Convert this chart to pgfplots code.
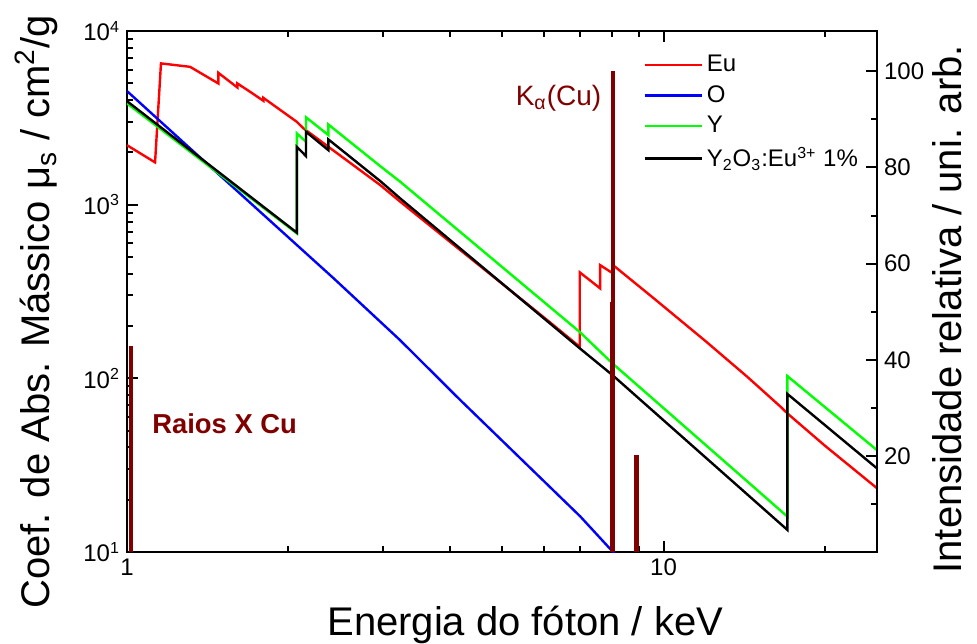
\documentclass[border=0pt]{standalone}
\usepackage{fontspec}
\setmainfont{Liberation Sans}
\usepackage{pgfplots}
\pgfplotsset{compat=1.18}
\definecolor{cured}{RGB}{128,0,0}
\definecolor{ygreen}{RGB}{0,255,0}
\definecolor{eured}{RGB}{255,0,0}
\definecolor{oblue}{RGB}{0,0,255}
\begin{document}
\begin{tikzpicture}
\path[use as bounding box] (-63.5pt,-45.5pt) rectangle (425pt,276pt);
\begin{axis}[
  at={(0,0)}, anchor=south west,
  scale only axis, width=375pt, height=260.5pt,
  xmode=log, ymode=log,
  xmin=1, xmax=25, ymin=10, ymax=10000,
  xtick={1,10}, xticklabels={1,10},
  minor xtick={2,3,4,5,6,7,8,9,20},
  ytick={10,100,1000,10000},
  yticklabels={10\textsuperscript{1},10\textsuperscript{2},10\textsuperscript{3},10\textsuperscript{4}},
  minor ytick={20,30,40,50,60,70,80,90,200,300,400,500,600,700,800,900,2000,3000,4000,5000,6000,7000,8000,9000},
  ytick pos=left,
  tick align=inside,
  major tick length=5.5pt, minor tick length=3pt,
  axis line style={line width=1.2pt},
  every tick/.style={line width=1pt, black},
  tick label style={font=\fontsize{12}{14}\selectfont},
  label style={font=\fontsize{20}{24}\selectfont},
  xlabel={Energia do fóton / keV},
  ylabel={Coef. de Abs. Mássico μ\textsubscript{s} / cm\textsuperscript{2}/g},
  xlabel style={at={(axis description cs:0.531,-0.1612)}, anchor=base},
  ylabel style={at={(axis description cs:-0.1027,0.461)}, anchor=base},
  legend cell align=left,
  legend style={at={(rel axis cs:0.688,0.962)}, anchor=north west, draw=none, fill=none,
    font=\fontsize{12}{14}\selectfont, inner sep=0pt, row sep=1.5pt},
  legend image code/.code={\draw[#1] (0pt,0pt) -- (28.5pt,0pt);},
]
\addplot[eured, line width=1.2pt] coordinates {
(1.000,2200) (1.128,1752) (1.157,6510) (1.311,6220) (1.480,4990) (1.480,5745)
(1.606,4730) (1.606,4990) (1.696,4468) (1.796,3963) (1.796,4121) (2.073,2999)
(2.133,2749) (2.965,1297) (3.231,1040) (4.0,611) (5.0,351) (6.0,223) (6.98,152)
(6.98,408) (7.617,330) (7.617,449) (8.05,402) (8.05,449) (9.59,289) (12.0,163)
(14.33,102) (16.53,68.6) (17.02,62.8) (20.0,40.9) (25.0,23.3)};
\addlegendentry{Eu}
\addplot[oblue, line width=1.2pt] coordinates {
(1.000,4510) (1.311,2109) (2.427,377) (3.228,166)
(4.180,75) (7.000,16) (8.100,9.8)};
\addlegendentry{O}
\addplot[ygreen, line width=1.2pt] coordinates {
(1.000,3830) (2.073,684) (2.073,2572) (2.156,2302) (2.156,3186) (2.373,2518)
(2.373,2897) (2.965,1667) (3.231,1355) (6.980,185) (8.030,122) (17.02,16)
(17.02,103) (25.0,38.6)};
\addlegendentry{Y}
\addplot[black, line width=1.2pt] coordinates {
(1.000,3945) (2.073,690) (2.073,2153) (2.156,1905) (2.156,2630) (2.373,2061)
(2.373,2377) (2.965,1368) (3.231,1086) (6.980,149) (8.030,104.5) (17.02,13.4)
(17.02,81.3) (25.0,30.3)};
\addlegendentry{Y\textsubscript{2}O\textsubscript{3}:Eu\textsuperscript{3+} 1\%}
\node[anchor=base west, inner sep=0pt, text=cured, font=\bfseries\fontsize{13.7}{16}\selectfont]
  at (axis cs:1.113,48.4) {Raios X Cu};
\node[anchor=base west, inner sep=0pt, text=cured, font=\fontsize{14}{17}\selectfont]
  at (axis cs:5.296,3741) {K\textsubscript{α}(Cu)};
\end{axis}
\begin{axis}[
  at={(0,0)}, anchor=south west,
  scale only axis, width=375pt, height=260.5pt,
  xmode=log, xmin=1, xmax=25,
  ymin=0, ymax=108.4,
  axis x line=none, axis y line*=right,
  ytick={20,40,60,80,100}, minor ytick={10,30,50,70,90},
  ytick pos=right,
  tick align=inside,
  major tick length=5.5pt, minor tick length=3pt,
  axis line style={line width=1.2pt},
  every tick/.style={line width=1pt, black},
  /pgf/number format/assume math mode=true,
  tick label style={font=\fontsize{12}{14}\selectfont},
  label style={font=\fontsize{20}{24}\selectfont},
  ylabel={Intensidade relativa / uni. arb.},
  ylabel style={at={(axis description cs:1.1133,0.466)}, anchor=base},
]
\addplot[cured, line width=2.2pt, ycomb] coordinates {
(1.018,42.8) (8.027,52) (8.058,100) (8.907,20.2)};
\end{axis}
\end{tikzpicture}
\end{document}
